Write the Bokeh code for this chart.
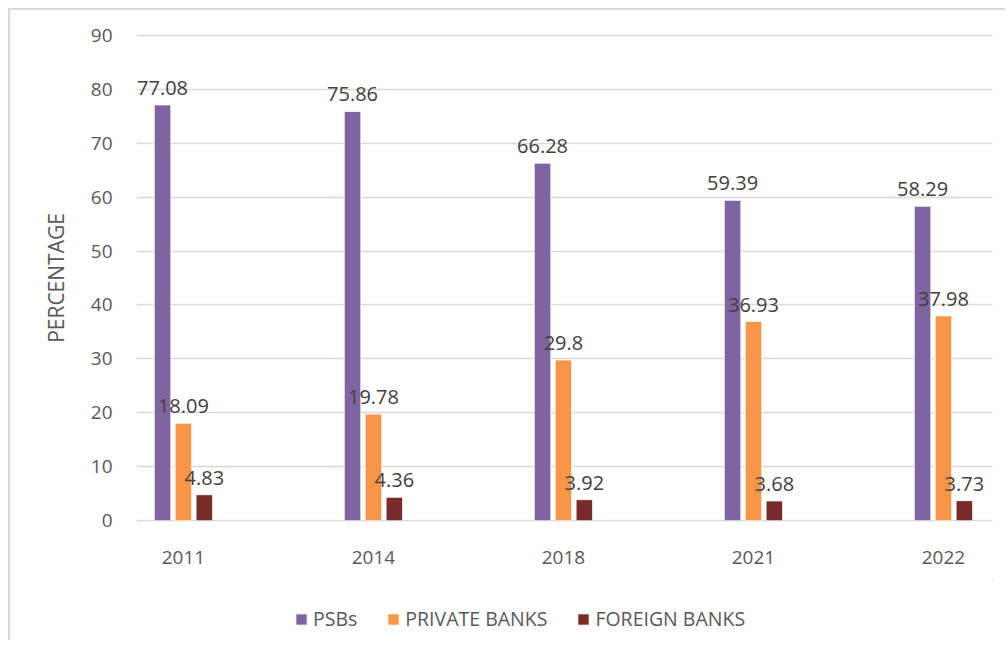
from bokeh.plotting import figure
from bokeh.layouts import column
from bokeh.models import ColumnDataSource, Range1d, FixedTicker, Legend, LegendItem
from bokeh.transform import dodge
from bokeh.core.properties import value
from bokeh.embed import file_html
from bokeh.resources import INLINE

years = ["2011", "2014", "2018", "2021", "2022"]
psbs = [77.08, 75.86, 66.28, 59.39, 58.29]
private_banks = [18.09, 19.78, 29.8, 36.93, 37.98]
foreign_banks = [4.83, 4.36, 3.92, 3.68, 3.73]
y_ticks = [0, 10, 20, 30, 40, 50, 60, 70, 80, 90]

series_names = ["PSBs", "PRIVATE BANKS", "FOREIGN BANKS"]
colors = ["#8064A2", "#F79646", "#772C2A"]
offsets = [-0.11, 0.0, 0.11]
cols = ["psbs", "private", "foreign"]

FONT = "Open Sans"

idx = list(range(len(years)))
src = ColumnDataSource(dict(
    x=idx,
    psbs=psbs, private=private_banks, foreign=foreign_banks,
    psbs_t=[str(v) for v in psbs],
    private_t=[str(v) for v in private_banks],
    foreign_t=[str(v) for v in foreign_banks],
))

p = figure(width=995, height=570, output_backend="svg", toolbar_location=None,
           x_range=Range1d(-0.247, 4.258), y_range=Range1d(-0.5, 90.5),
           min_border_left=126, min_border_right=13, min_border_top=22, min_border_bottom=57)
p.outline_line_color = None
p.background_fill_color = "white"
p.border_fill_color = "white"

for col, color, off in zip(cols, colors, offsets):
    p.vbar(x=dodge("x", off, range=p.x_range), top=col, bottom=0, width=0.087,
           source=src, fill_color=color, line_color="white", line_width=0.8)
    p.text(x=dodge("x", off, range=p.x_range), y=col, text=col + "_t", source=src,
           text_align="center", text_baseline="alphabetic", y_offset=-17,
           text_font=value(FONT), text_font_size="20px", text_color="#404040")

# axes
p.xaxis.ticker = FixedTicker(ticks=idx)
p.xaxis.major_label_overrides = {i: y for i, y in zip(idx, years)}
p.yaxis.ticker = FixedTicker(ticks=y_ticks)
for ax in (p.xaxis, p.yaxis):
    ax.axis_line_color = None
    ax.major_tick_line_color = None
    ax.minor_tick_line_color = None
    ax.major_label_text_font = FONT
    ax.major_label_text_font_size = "19px"
    ax.major_label_text_color = "#595959"
p.xaxis.major_label_standoff = 21
p.yaxis.major_label_standoff = 18
p.yaxis.axis_label = "PERCENTAGE"
p.yaxis.axis_label_text_font = FONT
p.yaxis.axis_label_text_font_size = "21px"
p.yaxis.axis_label_text_font_style = "normal"
p.yaxis.axis_label_text_color = "#595959"
p.yaxis.axis_label_standoff = 18

p.xgrid.grid_line_color = None
p.ygrid.grid_line_color = "#d9d9d9"
p.ygrid.grid_line_width = 1.5

# legend strip below the chart (its bars lie outside its visible range)
pl = figure(width=995, height=60, output_backend="svg", toolbar_location=None,
            x_axis_type=None, y_axis_type=None,
            x_range=Range1d(-100, -99), y_range=Range1d(-100, -99),
            min_border_left=126, min_border_right=13, min_border_top=0, min_border_bottom=0)
pl.outline_line_color = None
pl.xgrid.grid_line_color = None
pl.ygrid.grid_line_color = None
leg_renderers = [pl.vbar(x="x", top=col, bottom=0, width=0.087, source=src,
                         fill_color=c, line_color="white", line_width=0.8)
                 for col, c in zip(cols, colors)]
legend = Legend(items=[LegendItem(label=n, renderers=[r]) for n, r in zip(series_names, leg_renderers)],
                orientation="horizontal", location=(158, 8),
                label_text_font=FONT, label_text_font_size="19.5px", label_text_color="#595959",
                glyph_width=14, glyph_height=14, label_standoff=5, spacing=29,
                padding=0, margin=0, border_line_color=None, background_fill_alpha=0)
pl.add_layout(legend, "center")

layout = column(p, pl, spacing=0)
layout.styles = {"margin-left": "8px", "margin-top": "8px",
                 "border-top": "2px solid #d9d9d9", "border-left": "2px solid #d9d9d9"}

open("out.html", "w").write(file_html(layout, INLINE))
